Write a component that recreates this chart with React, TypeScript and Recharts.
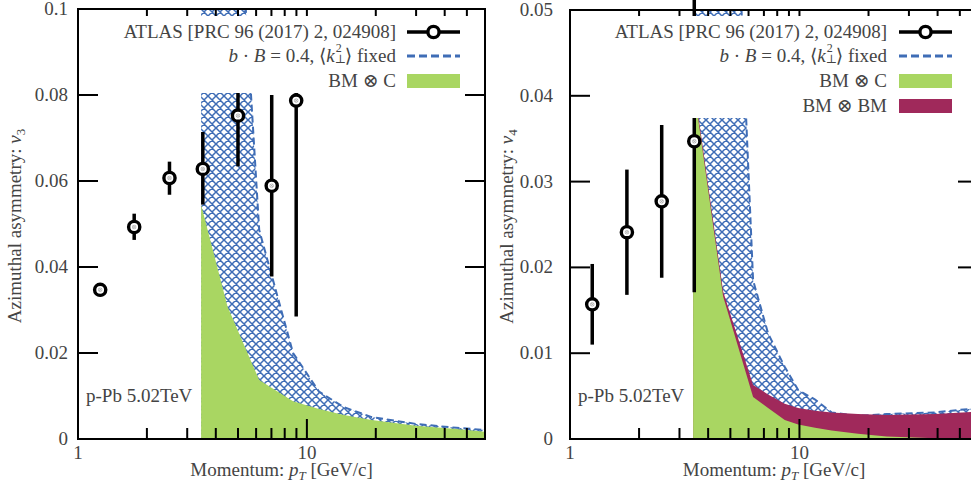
import React from 'react';
import { ComposedChart, Area, Scatter, ErrorBar, XAxis, YAxis, ReferenceArea, Label } from 'recharts';

const FONT = '"Liberation Serif", "DejaVu Serif", serif';
const TXT = '#444';
const FS = 19;
const BLUE = '#3f6db6';
const GREEN = '#a9d662';
const MAROON = '#a0295b';

// x axis ticks (log scale)
const xTicks = [1, 2, 3, 4, 5, 6, 7, 8, 9, 10, 20, 30, 40, 50];
const xLabels = [1, 10];

// ---------- left panel: v3 ----------
const v3Ticks = [0, 0.02, 0.04, 0.06, 0.08, 0.1];
const v3AtlasPt = [1.25, 1.76, 2.51, 3.51, 5.0, 7.02, 8.98];
const v3AtlasVal = [0.0347, 0.0493, 0.0607, 0.0628, 0.0752, 0.0589, 0.0787];
const v3AtlasErrLo = [0.0015, 0.003, 0.0039, 0.0083, 0.0118, 0.0211, 0.0502];
const v3AtlasErrHi = [0.0015, 0.0031, 0.0038, 0.0086, 0.0118, 0.0211, 0.011];
const v3ModelPt = [3.45, 4.5, 6.19, 8.7, 11.3, 14.5, 19.2, 30, 45, 60];
const v3Band = [0.3, 0.17, 0.0486, 0.02, 0.011, 0.0074, 0.0051, 0.0035, 0.0026, 0.0021];
const v3BMxC = [0.0545, 0.0308, 0.0137, 0.0088, 0.007, 0.0056, 0.0044, 0.0031, 0.0023, 0.0017];

// ---------- right panel: v4 ----------
const v4Ticks = [0, 0.01, 0.02, 0.03, 0.04, 0.05];
const v4AtlasPt = [1.25, 1.77, 2.51, 3.48];
const v4AtlasVal = [0.0157, 0.0241, 0.0277, 0.0347];
const v4AtlasErr = [0.0047, 0.0073, 0.0089, 0.0176];
const v4ModelPt = [3.44, 4.65, 6.28, 7.3, 8.63, 9.87, 11.7, 13.8, 18, 24, 39, 60];
const v4Band = [0.15, 0.1, 0.0185, 0.0123, 0.0084, 0.0057, 0.0046, 0.0031, 0.0027, 0.0029, 0.0031, 0.0036];
const v4BMxBM = [0.042, 0.0172, 0.0063, 0.0052, 0.0041, 0.0036, 0.0033, 0.0031, 0.0029, 0.0028, 0.0029, 0.0032];
const v4BMxC = [0.0415, 0.0166, 0.0049, 0.0036, 0.0022, 0.0017, 0.0013, 0.001, 0.0006, 0.0003, 0.0001, 0.0];

const v3Rows = v3ModelPt.map((x, i) => ({ x, band: v3Band[i], green: v3BMxC[i] }));
const v3Atlas = v3AtlasPt.map((x, i) => ({ x, y: v3AtlasVal[i], err: [v3AtlasErrLo[i], v3AtlasErrHi[i]] }));
const v4Rows = v4ModelPt.map((x, i) => ({ x, band: v4Band[i], maroon: v4BMxBM[i], green: v4BMxC[i] }));
const v4Atlas = v4AtlasPt.map((x, i) => ({ x, y: v4AtlasVal[i], err: [v4AtlasErr[i], v4AtlasErr[i]] }));

const Marker = (p: any) => {
  const { cx, cy } = p;
  if (cx == null || cy == null) return null;
  return (
    <g>
      <circle cx={cx} cy={cy} r={5.6} fill="#fff" stroke="#000" strokeWidth={3.4} />
      <circle cx={cx} cy={cy} r={1.8} fill="none" stroke="#999" strokeWidth={0.6} />
      <path d={`M${cx - 1.3},${cy - 1.3}L${cx + 1.3},${cy + 1.3}M${cx + 1.3},${cy - 1.3}L${cx - 1.3},${cy + 1.3}`} stroke="#999" strokeWidth={0.6} />
    </g>
  );
};

type PanelProps = {
  id: string;
  left: number;
  width: number;
  top: number;
  yWidth: number;
  labelGap: number;
  ymax: number;
  yTicks: number[];
  rows: any[];
  atlas: any[];
  harmonic: string;
  maroon: boolean;
};

function Panel(props: PanelProps) {
  const { id, left, width, top, yWidth, labelGap, ymax, yTicks, rows, atlas, harmonic, maroon } = props;
  const plotLeft = yWidth;
  const plotRight = width - 5;
  const plotTop = top;
  const plotBottom = 439;

  const xTick = (p: any) => {
    const { x, payload } = p;
    const v = payload.value;
    const major = xLabels.includes(v);
    const len = major ? 20 : 11;
    return (
      <g>
        {v !== 1 && <line x1={x} x2={x} y1={plotBottom} y2={plotBottom - len} stroke="#000" strokeWidth={2} />}
        {v !== 1 && <line x1={x} x2={x} y1={plotTop} y2={plotTop + len} stroke="#000" strokeWidth={2} />}
        {major && (
          <text x={x} y={plotBottom + 20} textAnchor="middle" fontFamily={FONT} fontSize={FS} fill={TXT}>
            {v}
          </text>
        )}
      </g>
    );
  };

  const yTick = (p: any) => {
    const { y, payload } = p;
    const v = payload.value;
    const edge = v === 0 || v === ymax;
    return (
      <g>
        {!edge && <line x1={plotLeft} x2={plotLeft + 20} y1={y} y2={y} stroke="#000" strokeWidth={2} />}
        {!edge && <line x1={plotRight - 20} x2={plotRight} y1={y} y2={y} stroke="#000" strokeWidth={2} />}
        <text x={plotLeft - labelGap} y={y + 6} textAnchor="end" fontFamily={FONT} fontSize={FS} fill={TXT}>
          {String(v)}
        </text>
      </g>
    );
  };

  const yTitle = () => {
    const cx = plotLeft - 57;
    const cy = (plotTop + plotBottom) / 2 + 2;
    return (
      <text
        x={cx}
        y={cy}
        transform={`rotate(-90, ${cx}, ${cy})`}
        textAnchor="middle"
        fontFamily={FONT}
        fontSize={FS}
        fill={TXT}
      >
        <tspan>Azimuthal asymmetry: </tspan>
        <tspan fontStyle="italic">v</tspan>
        <tspan fontSize={13} dy={4}>{harmonic}</tspan>
      </text>
    );
  };

  const xTitle = () => {
    const cx = (plotLeft + plotRight) / 2;
    return (
      <text x={cx} y={476} textAnchor="middle" fontFamily={FONT} fontSize={FS} fill={TXT}>
        <tspan>Momentum: </tspan>
        <tspan fontStyle="italic">p</tspan>
        <tspan fontStyle="italic" fontSize={13} dy={4}>T</tspan>
        <tspan dy={-4}> [GeV/c]</tspan>
      </text>
    );
  };

  return (
    <div style={{ position: 'absolute', left, top: 0, width, height: 486 }}>
      <ComposedChart width={width} height={486} data={rows} margin={{ top, right: 5, bottom: 0, left: 0 }}>
        <defs>
          <pattern id={`hatch-${id}`} patternUnits="userSpaceOnUse" width={8} height={8}>
            <rect width={8} height={8} fill="#fff" />
            <path d="M0,0L8,8M8,0L0,8M-1,7L1,9M7,-1L9,1M-1,1L1,-1M7,9L9,7" stroke={BLUE} strokeWidth={1.5} />
          </pattern>
        </defs>
        <XAxis
          dataKey="x"
          type="number"
          scale="log"
          domain={[1, 60]}
          allowDataOverflow
          ticks={xTicks}
          interval={0}
          tick={xTick}
          tickLine={false}
          axisLine={false}
          height={47}
        >
          <Label content={xTitle} />
        </XAxis>
        <YAxis
          type="number"
          domain={[0, ymax]}
          allowDataOverflow
          ticks={yTicks}
          interval={0}
          tick={yTick}
          tickLine={false}
          axisLine={false}
          width={yWidth}
        >
          <Label content={yTitle} />
        </YAxis>
        <Area
          dataKey="band"
          type="linear"
          fill={`url(#hatch-${id})`}
          fillOpacity={1}
          stroke={BLUE}
          strokeWidth={2}
          strokeDasharray="7 4"
          isAnimationActive={false}
          dot={false}
          activeDot={false}
        />
        {maroon && (
          <Area
            dataKey="maroon"
            type="linear"
            fill={MAROON}
            fillOpacity={1}
            stroke="none"
            isAnimationActive={false}
            dot={false}
            activeDot={false}
          />
        )}
        <Area
          dataKey="green"
          type="linear"
          fill={GREEN}
          fillOpacity={1}
          stroke="none"
          isAnimationActive={false}
          dot={false}
          activeDot={false}
        />
        <Scatter data={atlas} dataKey="y" shape={Marker} isAnimationActive={false}>
          <ErrorBar dataKey="err" direction="y" width={0} stroke="#000" strokeWidth={3.5} />
        </Scatter>
        <ReferenceArea x1={1} x2={60} y1={0} y2={ymax} fill="none" stroke="#000" strokeWidth={2} ifOverflow="visible" />
      </ComposedChart>
    </div>
  );
}

const legendText: React.CSSProperties = {
  position: 'absolute',
  fontFamily: FONT,
  fontSize: FS,
  color: TXT,
  whiteSpace: 'nowrap',
  lineHeight: '24px',
  height: 24,
  textAlign: 'right',
};

function LegendBox(props: { left: number; right: number; top: number; bottom: number; textRight: number; symLeft: number; symRight: number; rows: number[]; maroon: boolean }) {
  const { left, right, top, bottom, textRight, symLeft, symRight, rows, maroon } = props;
  const w = right - left;
  const items: React.ReactNode[] = [];
  const textPos = (cy: number): React.CSSProperties => ({ ...legendText, right: right - textRight, top: cy - top - 12 });
  const sw = symRight - symLeft;
  const symPos = (cy: number): React.CSSProperties => ({ position: 'absolute', left: symLeft - left, top: cy - top - 10 });

  items.push(
    <div key="t0" style={textPos(rows[0])}>ATLAS [PRC 96 (2017) 2, 024908]</div>,
    <svg key="s0" width={sw} height={20} style={symPos(rows[0])}>
      <line x1={0} x2={sw} y1={10} y2={10} stroke="#000" strokeWidth={3.5} />
      <circle cx={sw / 2} cy={10} r={5.6} fill="#fff" stroke="#000" strokeWidth={3.4} />
    </svg>,
    <div key="t1" style={textPos(rows[1])}>
      <i>b</i> · <i>B</i> = 0.4, ⟨<i>k</i>
      <span style={{ position: 'relative', display: 'inline-block', width: 10, height: 10 }}>
        <span style={{ position: 'absolute', left: 1, top: -10, fontSize: 12, lineHeight: '12px' }}>2</span>
        <span style={{ position: 'absolute', left: 0, top: 1, fontSize: 12, lineHeight: '12px' }}>⊥</span>
      </span>
      ⟩ fixed
    </div>,
    <svg key="s1" width={sw} height={20} style={symPos(rows[1])}>
      <line x1={0} x2={sw} y1={10} y2={10} stroke={BLUE} strokeWidth={3} strokeDasharray="8 4" />
    </svg>,
    <div key="t2" style={textPos(rows[2])}>BM ⊗ C</div>,
    <svg key="s2" width={sw} height={20} style={symPos(rows[2])}>
      <rect x={0} y={3} width={sw} height={14} fill={GREEN} />
    </svg>
  );
  if (maroon) {
    items.push(
      <div key="t3" style={textPos(rows[3])}>BM ⊗ BM</div>,
      <svg key="s3" width={sw} height={20} style={symPos(rows[3])}>
        <rect x={0} y={3} width={sw} height={14} fill={MAROON} />
      </svg>
    );
  }
  return (
    <div style={{ position: 'absolute', left, top, width: w, height: bottom - top, background: '#fff' }}>{items}</div>
  );
}

export default function App() {
  return (
    <div style={{ position: 'absolute', left: 0, top: 0, width: 971, height: 486, overflow: 'hidden', background: '#fff' }}>
      <Panel id="v3" left={0} width={490} top={9} yWidth={78} labelGap={10} ymax={0.1} yTicks={v3Ticks} rows={v3Rows} atlas={v3Atlas} harmonic="3" maroon={false} />
      <Panel id="v4" left={490} width={493} top={10} yWidth={80} labelGap={17} ymax={0.05} yTicks={v4Ticks} rows={v4Rows} atlas={v4Atlas} harmonic="4" maroon={true} />
      <LegendBox left={112} right={484} top={16} bottom={93} textRight={396} symLeft={407} symRight={460} rows={[31.5, 56, 80.5]} maroon={false} />
      <LegendBox left={600} right={971} top={16} bottom={118} textRight={887} symLeft={899} symRight={952} rows={[31.5, 56, 80.5, 105.5]} maroon={true} />
      <div style={{ position: 'absolute', left: 86, top: 384, fontFamily: FONT, fontSize: FS, color: TXT, whiteSpace: 'nowrap', lineHeight: '24px' }}>p-Pb 5.02TeV</div>
      <div style={{ position: 'absolute', left: 578, top: 384, fontFamily: FONT, fontSize: FS, color: TXT, whiteSpace: 'nowrap', lineHeight: '24px' }}>p-Pb 5.02TeV</div>
    </div>
  );
}
